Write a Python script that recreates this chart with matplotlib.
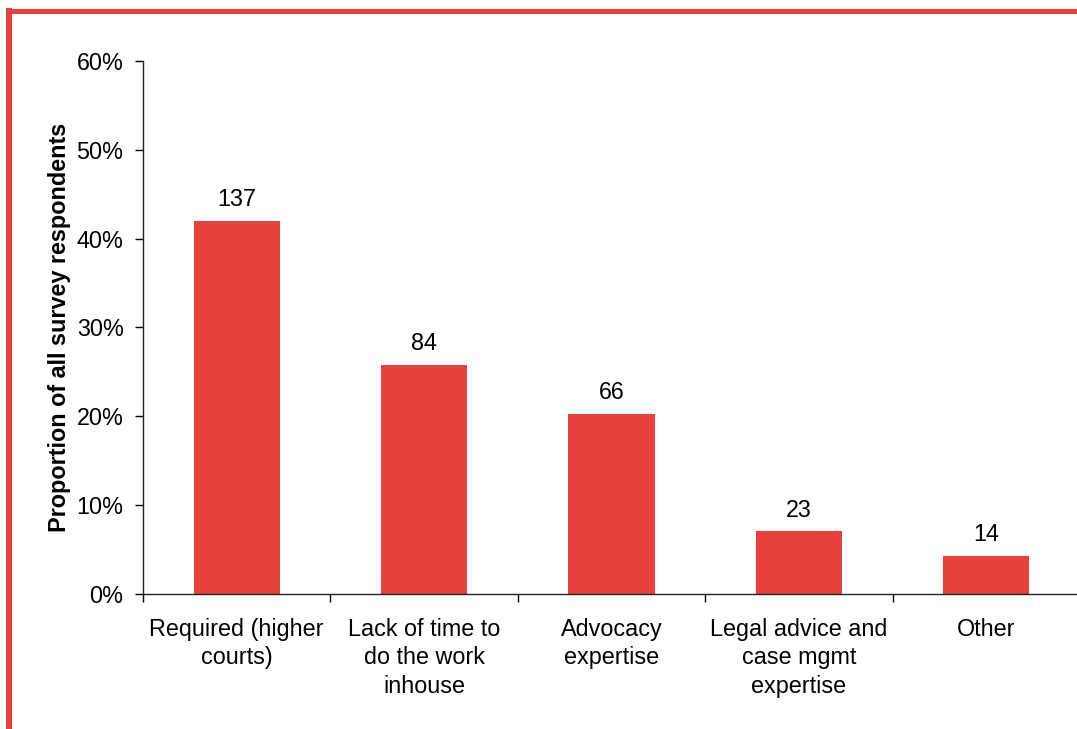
import matplotlib.pyplot as plt
from matplotlib.lines import Line2D
from matplotlib.ticker import PercentFormatter

plt.rcParams['font.family'] = ['Liberation Sans', 'DejaVu Sans']

# Reasons for instructing counsel, counts out of all survey respondents
categories = ["Required (higher\ncourts)", "Lack of time to\ndo the work\ninhouse",
              "Advocacy\nexpertise", "Legal advice and\ncase mgmt\nexpertise", "Other"]
counts = [137, 84, 66, 23, 14]
total_respondents = 326

red = "#E8403A"
fs = 16.8
shares = [100 * c / total_respondents for c in counts]

fig = plt.figure(figsize=(10.77, 7.29), dpi=100)
ax = fig.add_axes([143 / 1077, 1 - 594 / 729, 937 / 1077, 533 / 729])

x = range(len(categories))
bars = ax.bar(x, shares, width=0.46, color=red)
for b, c in zip(bars, counts):
    ax.annotate(str(c), (b.get_x() + b.get_width() / 2, b.get_height()),
                xytext=(0, 7), textcoords="offset points",
                ha="center", va="bottom", fontsize=fs)

ax.set_xlim(-0.5, len(categories) - 0.5)
ax.set_ylim(0, 60)
ax.set_yticks(range(0, 61, 10))
ax.yaxis.set_major_formatter(PercentFormatter(decimals=0))
ax.set_xticks(list(x))
ax.set_xticklabels(categories, fontsize=fs, linespacing=1.32)
ax.set_xticks([i + 0.5 for i in range(-1, len(categories))], minor=True)
ax.tick_params(axis="x", which="major", length=0, pad=17)
ax.tick_params(axis="x", which="minor", length=6, width=1, direction="out")
ax.tick_params(axis="y", length=6, width=1, labelsize=fs, pad=8)
ax.set_ylabel("Proportion of all survey respondents", fontsize=fs,
              fontweight="bold", labelpad=4)

for side in ["top", "right"]:
    ax.spines[side].set_visible(False)
for side in ["left", "bottom"]:
    ax.spines[side].set_linewidth(1)
    ax.spines[side].set_color("#222222")

# red frame along the top and left edges
fig.add_artist(Line2D([9 / 1077, 9 / 1077], [0, 1 - 8 / 729],
                      color=red, lw=4.3, solid_capstyle="butt"))
fig.add_artist(Line2D([6 / 1077, 1], [1 - 10.5 / 729, 1 - 10.5 / 729],
                      color=red, lw=3.6, solid_capstyle="butt"))

fig.savefig("out.png", dpi=100)
